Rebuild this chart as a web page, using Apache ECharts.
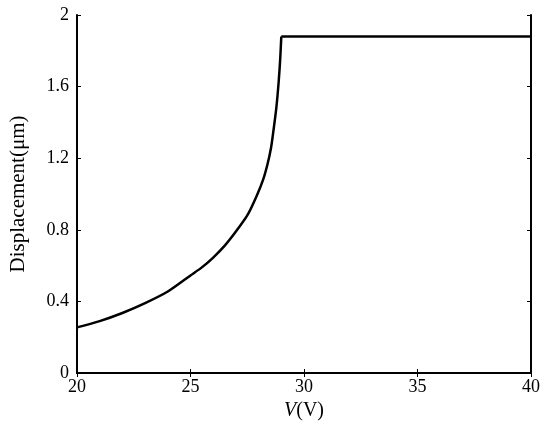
<!DOCTYPE html>
<html>
<head>
<meta charset="utf-8">
<script src="https://cdn.jsdelivr.net/npm/echarts@6/dist/echarts.min.js"></script>
<style>html,body{margin:0;padding:0;background:#fff}#c{width:550px;height:431px}</style>
</head>
<body>
<div id="c"></div>
<script>
// rising branch before pull-in
const voltage = [20, 21, 22, 23, 24, 25, 25.5, 26, 26.5, 27, 27.5, 27.9, 28.2, 28.4, 28.55, 28.66, 28.78, 28.88, 28.95, 29.0];
const displacement = [0.255, 0.29, 0.335, 0.39, 0.455, 0.545, 0.59, 0.645, 0.71, 0.79, 0.88, 0.985, 1.08, 1.17, 1.26, 1.36, 1.48, 1.62, 1.75, 1.88];
// flat branch after pull-in
const voltageFlat = [29.0, 40];
const displacementFlat = [1.88, 1.88];
const xTicks = [20, 25, 30, 35, 40];
const yTicks = [0, 0.4, 0.8, 1.2, 1.6, 2];

const font = 'Liberation Serif';
const chart = echarts.init(document.getElementById('c'));
const axisLine = {show: true, lineStyle: {color: '#000', width: 2}};
const tick = {show: true, inside: true, length: 4, lineStyle: {color: '#000', width: 1}};
chart.setOption({
  animation: false,
  grid: {left: 77, right: 19, top: 15, bottom: 58},
  xAxis: [{
    type: 'value', min: xTicks[0], max: xTicks[xTicks.length - 1], interval: 5,
    axisLine: axisLine, axisTick: tick, splitLine: {show: false},
    axisLabel: {fontFamily: font, fontSize: 18, color: '#000', margin: 5},
    name: '{i|V}(V)', nameLocation: 'middle', nameGap: 27,
    nameTextStyle: {fontFamily: font, fontSize: 20, color: '#000',
      rich: {i: {fontFamily: font, fontSize: 20, fontStyle: 'italic', color: '#000'}}}
  }, {
    type: 'value', min: xTicks[0], max: xTicks[xTicks.length - 1], interval: 5, position: 'top',
    axisLine: axisLine, axisTick: tick, axisLabel: {show: false}, splitLine: {show: false}
  }],
  yAxis: [{
    type: 'value', min: yTicks[0], max: yTicks[yTicks.length - 1], interval: 0.4,
    axisLine: axisLine, axisTick: tick, splitLine: {show: false},
    axisLabel: {fontFamily: font, fontSize: 18, color: '#000', margin: 8,
      formatter: v => String(Math.round(v * 10) / 10)},
    name: 'Displacement(μm)', nameLocation: 'middle', nameGap: 48, nameRotate: 90,
    nameTextStyle: {fontFamily: font, fontSize: 21, color: '#000'}
  }, {
    type: 'value', min: yTicks[0], max: yTicks[yTicks.length - 1], interval: 0.4, position: 'right',
    axisLine: axisLine, axisTick: tick, axisLabel: {show: false}, splitLine: {show: false}
  }],
  series: [{
    type: 'line', xAxisIndex: 0, yAxisIndex: 0,
    data: voltage.map((v, i) => [v, displacement[i]]),
    showSymbol: false, smooth: 0.25,
    lineStyle: {color: '#000', width: 2.5, join: 'miter'}
  }, {
    type: 'line', xAxisIndex: 0, yAxisIndex: 0,
    data: voltageFlat.map((v, i) => [v, displacementFlat[i]]),
    showSymbol: false,
    lineStyle: {color: '#000', width: 2.5}
  }]
});
</script>
</body>
</html>
